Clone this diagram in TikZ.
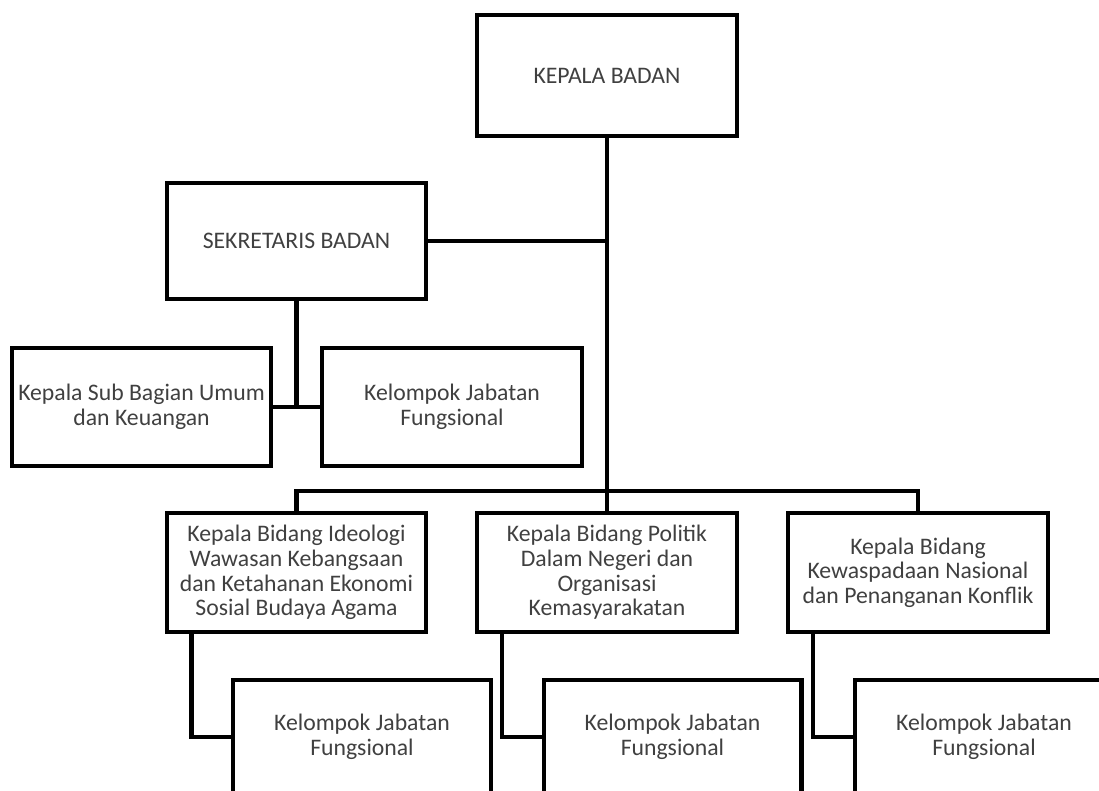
\documentclass[tikz,border=0pt]{standalone}
\usepackage{fontspec}
\setmainfont{Carlito}
\usetikzlibrary{positioning,calc}

\begin{document}
\begin{tikzpicture}[x=0.02cm, y=-0.02cm,
  box/.style={draw, rectangle, line width=2.3pt, minimum width=5.2cm, align=center,
    inner sep=1pt, text=black!75, font=\fontsize{13.5}{14}\selectfont},
  link/.style={line width=2.3pt}]
  \path[use as bounding box] (0,0) rectangle (1099,791);
  \clip (0,0) rectangle (1099,791);

  % Pimpinan
  \node[box, minimum height=2.42cm] (kepala) at (607,75.5) {KEPALA BADAN};
  \node[box, minimum height=2.32cm] (sekretaris) at (296.5,241) {SEKRETARIS BADAN};

  % Sekretariat
  \node[box, minimum height=2.36cm] (subbag) at (141.5,407) {Kepala Sub Bagian Umum\\dan Keuangan};
  \node[box, minimum height=2.36cm] (jfsek) at (452,407) {Kelompok Jabatan\\Fungsional};

  % Bidang
  \node[box, minimum height=2.38cm] (bid1) at (296.5,572.5) {Kepala Bidang Ideologi\\Wawasan Kebangsaan\\dan Ketahanan Ekonomi\\Sosial Budaya Agama};
  \node[box, minimum height=2.38cm] (bid2) at (607,572.5) {Kepala Bidang Politik\\Dalam Negeri dan\\Organisasi\\Kemasyarakatan};
  \node[box, minimum height=2.38cm] (bid3) at (918,572.5) {Kepala Bidang\\Kewaspadaan Nasional\\dan Penanganan Konflik};

  % Jabatan fungsional per bidang
  \node[box, minimum height=2.28cm, minimum width=5.16cm] (jf1) at (362,737) {Kelompok Jabatan\\Fungsional};
  \node[box, minimum height=2.28cm, minimum width=5.16cm] (jf2) at (672.5,737) {Kelompok Jabatan\\Fungsional};
  \node[box, minimum height=2.28cm, minimum width=5.16cm] (jf3) at (984,737) {Kelompok Jabatan\\Fungsional};

  % Garis komando
  \coordinate (bus) at (607,491);
  \draw[link] (kepala) -- (bid2);
  \draw[link] (sekretaris.east) -- (sekretaris.east -| kepala.south);
  \draw[link] (sekretaris.south) -- (sekretaris.south |- subbag.east);
  \draw[link] (subbag.east) -- (jfsek.west);
  \draw[link] (bid1.north) |- (bus) -| (bid3.north);
  \foreach \b/\j in {bid1/jf1, bid2/jf2, bid3/jf3}
    \draw[link] ([xshift=0.54cm]\b.south west) |- (\j.west);
\end{tikzpicture}
\end{document}
